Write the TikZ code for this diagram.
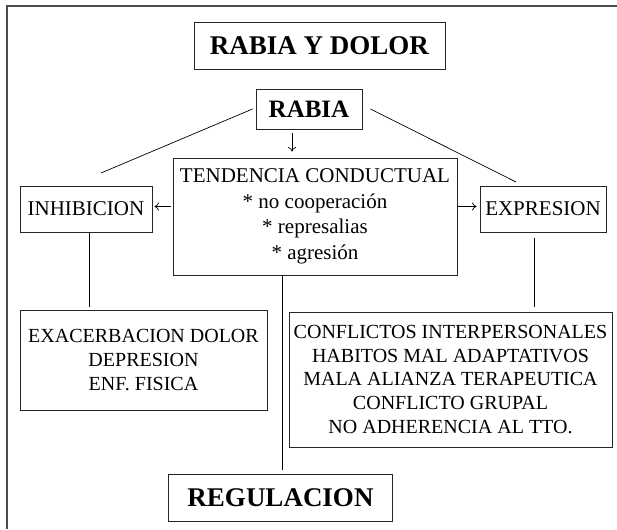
\documentclass[tikz,border=0pt]{standalone}
\usepackage{fontspec}
\setmainfont{Liberation Serif}
\usetikzlibrary{arrows.meta}
\begin{document}
\begin{tikzpicture}[x=1pt,y=-1pt,
  box/.style={draw=black!85, line width=0.9pt, inner sep=0pt, align=center},
  big/.style={font=\fontsize{27}{32}\selectfont\bfseries},
  mid/.style={font=\fontsize{21}{25.5}\selectfont},
  small/.style={font=\fontsize{20}{23.7}\selectfont},
  conn/.style={line width=0.7pt},
  arr/.style={line width=0.7pt, -{To[length=4.5pt,width=8pt]}}]
\useasboundingbox (0,0) rectangle (617,529);
\draw[line width=1.3pt, black!70] (7,529) -- (7,6) -- (617,6);
\node[box,big,minimum width=251pt,minimum height=47pt] (title) at (319.5,45.5) {RABIA Y DOLOR};
\node[box,font=\fontsize{25}{30}\selectfont\bfseries,minimum width=106pt,minimum height=40pt] (rabia) at (309,109) {RABIA};
\node[box,mid,minimum width=284pt,minimum height=117pt] (tend) at (315,216.5) {TENDENCIA CONDUCTUAL\\{*} no cooperación\\{*} represalias\\{*} agresión};
\node[box,mid,minimum width=132pt,minimum height=46pt] (inhib) at (86,209) {INHIBICION};
\node[box,mid,minimum width=126pt,minimum height=46pt] (expr) at (543,209) {EXPRESION};
\node[box,small,minimum width=247pt,minimum height=100pt] (exac) at (143.5,360) {EXACERBACION DOLOR\\DEPRESION\\ENF. FISICA};
\node[box,small,minimum width=323pt,minimum height=135pt] (conf) at (450.5,379.5) {CONFLICTOS INTERPERSONALES\\HABITOS MAL ADAPTATIVOS\\MALA ALIANZA TERAPEUTICA\\CONFLICTO GRUPAL\\NO ADHERENCIA AL TTO.};
\node[box,big,minimum width=224pt,minimum height=47pt] (regu) at (280.5,497.5) {REGULACION};
\coordinate (lend) at (101,173);
\coordinate (rend) at (516,182);
\draw[conn] ([xshift=-3pt]rabia.west) -- (lend);
\draw[conn] ([xshift=8pt]rabia.east) -- (rend);
\draw[arr] ([xshift=-17pt,yshift=-4pt]rabia.south) -- ([xshift=-17pt,yshift=6pt]rabia.south |- tend.north);
\draw[arr] ([xshift=-2pt,yshift=10pt]tend.west) -- ([xshift=2pt,yshift=10pt]tend.west -| inhib.east);
\draw[arr] ([xshift=1pt,yshift=10pt]tend.east) -- ([xshift=-3pt,yshift=10pt]tend.east -| expr.west);
\draw[conn] ([xshift=3pt,yshift=-1pt]inhib.south) -- ([xshift=3pt,yshift=3pt]inhib.south |- exac.north);
\draw[conn] ([xshift=-9pt,yshift=-6pt]expr.south) -- ([xshift=-9pt,yshift=5pt]expr.south |- conf.north);
\draw[conn] ([xshift=-33pt]tend.south) -- ([xshift=-33pt,yshift=4pt]tend.south |- regu.north);
\end{tikzpicture}
\end{document}
